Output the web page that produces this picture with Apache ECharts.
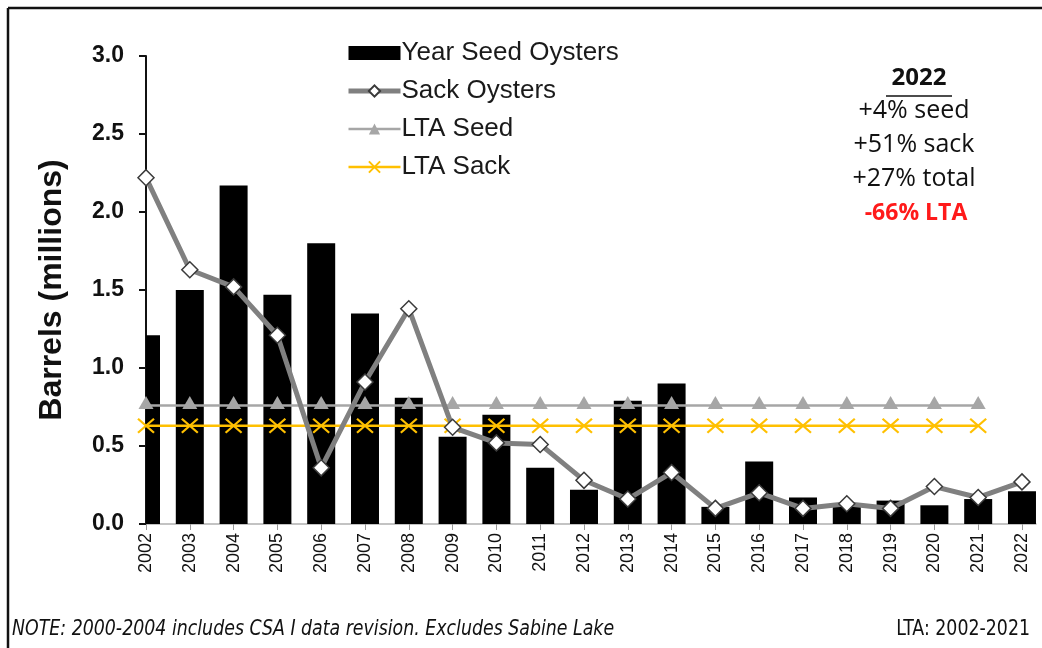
<!DOCTYPE html>
<html>
<head>
<meta charset="utf-8">
<script src="https://cdn.jsdelivr.net/npm/echarts@6/dist/echarts.min.js"></script>
<style>
  html, body { margin: 0; padding: 0; background: #fff; }
  #chart { width: 1042px; height: 648px; }
</style>
</head>
<body>
<div id="chart"></div>
<script>
// years on the x axis
const years = [2002, 2003, 2004, 2005, 2006, 2007, 2008, 2009, 2010, 2011, 2012,
  2013, 2014, 2015, 2016, 2017, 2018, 2019, 2020, 2021, 2022];
// barrels, millions
const seedOysters = [1.21, 1.50, 2.17, 1.47, 1.80, 1.35, 0.81, 0.56, 0.70, 0.36, 0.22,
  0.79, 0.90, 0.11, 0.40, 0.17, 0.11, 0.15, 0.12, 0.16, 0.21];
const sackOysters = [2.22, 1.63, 1.52, 1.21, 0.36, 0.91, 1.38, 0.62, 0.52, 0.51, 0.28,
  0.16, 0.33, 0.10, 0.20, 0.10, 0.13, 0.10, 0.24, 0.17, 0.27];
// long term average 2002-2021
const ltaYears = years.slice(0, 20);
const ltaSeed = 0.76;
const ltaSack = 0.63;
const yTicks = [0, 0.5, 1.0, 1.5, 2.0, 2.5, 3.0];
const notes = ['+4% seed', '+51% sack', '+27% total'];

const pair = (xs, ys) => xs.map((x, i) => [x, ys[i]]);
const crossPath = 'path://M0,0L10,10M10,0L0,10';
const font = '"Liberation Sans", Arial, sans-serif';
const noteFont = '"Open Sans", "Noto Sans", sans-serif';
const narrowFont = '"DejaVu Sans Condensed", "Liberation Sans Narrow", sans-serif';
const BAR_W = 28;

// bars cut at the grid edge, so the first one shows only its right half
function renderBar(params, api) {
  const top = api.coord([api.value(0), api.value(1)]);
  const base = api.coord([api.value(0), 0]);
  const cs = params.coordSys;
  const rect = echarts.graphic.clipRectByRect(
    { x: top[0] - BAR_W / 2, y: top[1], width: BAR_W, height: base[1] - top[1] },
    { x: cs.x, y: cs.y, width: cs.width, height: cs.height }
  );
  return rect && { type: 'rect', shape: rect, style: { fill: '#000' } };
}

const chart = echarts.init(document.getElementById('chart'));

chart.setOption({
  animation: false,
  backgroundColor: '#fff',
  grid: { left: 146, right: 6, top: 56, bottom: 124 },
  legend: {
    orient: 'vertical',
    left: 341,
    top: 35,
    itemWidth: 52,
    itemHeight: 14,
    itemGap: 12,
    textStyle: { fontFamily: font, fontSize: 26, color: '#1a1a1a', padding: [0, 0, 0, -4] },
    data: [
      { name: 'Year Seed Oysters', icon: 'rect', itemStyle: { color: '#000' } },
      { name: 'Sack Oysters', lineStyle: { width: 5, color: '#808080' } },
      { name: 'LTA Seed', lineStyle: { width: 2.5 } },
      { name: 'LTA Sack', lineStyle: { width: 2.5 } }
    ]
  },
  xAxis: {
    type: 'value',
    min: 2002,
    max: 2022.32,
    splitLine: { show: false },
    axisLine: { show: true, onZero: false, lineStyle: { color: '#b0b0b0', width: 1.5 } },
    axisTick: { show: true, length: 6, customValues: years, lineStyle: { color: '#999' } },
    axisLabel: {
      customValues: years,
      rotate: 90,
      margin: 9,
      fontFamily: font,
      fontSize: 18,
      color: '#111',
      formatter: v => String(v)
    }
  },
  yAxis: {
    type: 'value',
    min: 0,
    max: 3,
    interval: 0.5,
    name: 'Barrels (millions)',
    nameLocation: 'middle',
    nameGap: 78,
    nameTextStyle: { fontFamily: font, fontSize: 32, fontWeight: 'bold', color: '#111' },
    splitLine: { show: false },
    axisLine: { show: true, lineStyle: { color: '#111', width: 2 } },
    axisTick: { show: true, length: 7, lineStyle: { color: '#111', width: 2 } },
    axisLabel: {
      customValues: yTicks,
      margin: 22,
      fontFamily: font,
      fontSize: 23,
      fontWeight: 'bold',
      color: '#111',
      formatter: v => v.toFixed(1)
    }
  },
  series: [
    {
      name: 'Year Seed Oysters',
      type: 'custom',
      renderItem: renderBar,
      itemStyle: { color: '#000' },
      encode: { x: 0, y: 1 },
      data: pair(years, seedOysters),
      z: 1
    },
    {
      name: 'LTA Seed',
      type: 'line',
      data: ltaYears.map(y => [y, ltaSeed]),
      symbol: 'triangle',
      symbolSize: [15, 13],
      symbolOffset: [0, -3],
      itemStyle: { color: '#a6a6a6' },
      lineStyle: { color: '#a6a6a6', width: 2.5 },
      z: 3
    },
    {
      name: 'LTA Sack',
      type: 'line',
      data: ltaYears.map(y => [y, ltaSack]),
      symbol: crossPath,
      symbolSize: [16, 14],
      itemStyle: { color: 'none', borderColor: '#ffc000', borderWidth: 2 },
      lineStyle: { color: '#ffc000', width: 2.5 },
      z: 4
    },
    {
      name: 'Sack Oysters',
      type: 'line',
      data: pair(years, sackOysters),
      symbol: 'diamond',
      symbolSize: 16,
      itemStyle: { color: '#fff', borderColor: '#3a3a3a', borderWidth: 1.5 },
      lineStyle: { color: '#808080', width: 5 },
      z: 5
    }
  ],
  graphic: [
    // frame, only top and left edges show
    { type: 'line', shape: { x1: 8, y1: 8, x2: 1042, y2: 8 }, style: { stroke: '#111', lineWidth: 2.5 } },
    { type: 'line', shape: { x1: 8, y1: 8, x2: 8, y2: 648 }, style: { stroke: '#111', lineWidth: 2.5 } },
    {
      type: 'text', x: 919, y: 78,
      style: { text: '2022', fontFamily: noteFont, fontSize: 24, fontWeight: 'bold', fill: '#111', align: 'center', verticalAlign: 'middle' }
    },
    { type: 'line', shape: { x1: 886, y1: 96, x2: 952, y2: 96 }, style: { stroke: '#111', lineWidth: 1.5 } },
    ...notes.map((t, i) => ({
      type: 'text', x: 914, y: 111 + i * 34,
      style: { text: t, fontFamily: noteFont, fontSize: 25, fill: '#111', align: 'center', verticalAlign: 'middle' }
    })),
    {
      type: 'text', x: 916, y: 213,
      style: { text: '-66% LTA', fontFamily: noteFont, fontSize: 23, fontWeight: 'bold', fill: '#ff1a1a', align: 'center', verticalAlign: 'middle' }
    },
    {
      type: 'text', x: 12, y: 630, scaleX: 0.92,
      style: {
        text: 'NOTE: 2000-2004 includes CSA I data revision. Excludes Sabine Lake',
        fontFamily: narrowFont, fontStyle: 'italic', fontSize: 21, fill: '#111', verticalAlign: 'middle'
      }
    },
    {
      type: 'text', x: 1030, y: 630, scaleX: 0.92,
      style: {
        text: 'LTA: 2002-2021',
        fontFamily: narrowFont, fontSize: 21, fill: '#111', align: 'right', verticalAlign: 'middle'
      }
    }
  ]
});
</script>
</body>
</html>
